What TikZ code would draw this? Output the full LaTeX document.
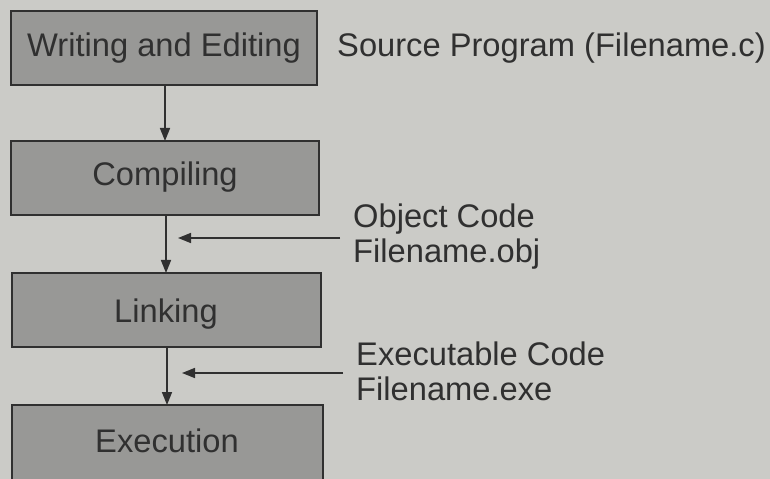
\documentclass[tikz,border=0pt]{standalone}
\usepackage{fontspec}
\setmainfont{Liberation Sans}
\usetikzlibrary{arrows.meta}
\definecolor{paper}{RGB}{203,203,199}
\definecolor{boxfill}{RGB}{152,152,150}
\definecolor{ink}{RGB}{48,48,48}
\tikzset{
  stage/.style={draw=ink, line width=1.8bp, fill=boxfill},
  stagetext/.style={text=ink, anchor=base, inner sep=0pt,
    font=\fontsize{32.8}{38}\selectfont},
  label/.style={text=ink, anchor=base west, inner sep=0pt,
    font=\fontsize{32.8}{38}\selectfont},
  flow/.style={draw=ink, line width=1.6bp,
    -{Triangle[length=13bp,width=10bp]}},
}
\begin{document}
\begin{tikzpicture}[x=1bp, y=-1bp]
  \useasboundingbox (0,0) rectangle (770,479);
  \clip (0,0) rectangle (770,479);
  \fill[paper] (0,0) rectangle (770,479);

  % stages
  \draw[stage] (11,11) rectangle (317,85);
  \node[stagetext] (write) at (164,57) {Writing and Editing};
  \draw[stage] (11,141) rectangle (319,215);
  \node[stagetext] (comp) at (165,186) {Compiling};
  \draw[stage] (12,273) rectangle (321,347);
  \node[stagetext] (link) at (166,322) {Linking};
  \draw[stage] (12,405) rectangle (323,500);
  \node[stagetext] (exec) at (167,452) {Execution};

  % anchors on box edges for the flow arrows
  \coordinate (w-b) at (165,85);
  \coordinate (c-t) at (165,141);
  \coordinate (c-b) at (166,215);
  \coordinate (l-t) at (166,273);
  \coordinate (l-b) at (167,347);
  \coordinate (e-t) at (167,405);
  \draw[flow] (w-b) -- (c-t);
  \draw[flow] (c-b) -- (l-t);
  \draw[flow] (l-b) -- (e-t);

  % side notes
  \node[label] (src) at (337,57) {Source Program (Filename.c)};
  \node[label] (obj1) at (353,228) {Object Code};
  \node[label] (obj2) at (353,263) {Filename.obj};
  \node[label] (exe1) at (356,365) {Executable Code};
  \node[label] (exe2) at (356,400) {Filename.exe};

  \coordinate (obj-s) at (340,238);
  \coordinate (obj-e) at (178,238);
  \coordinate (exe-s) at (343,373);
  \coordinate (exe-e) at (182,373);
  \draw[flow] (obj-s) -- (obj-e);
  \draw[flow] (exe-s) -- (exe-e);
\end{tikzpicture}
\end{document}
